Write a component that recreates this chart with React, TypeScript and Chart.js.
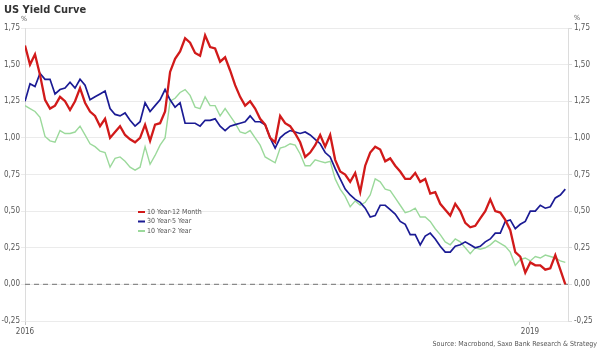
import React, { useEffect, useRef } from "react";
import { Chart, registerables } from "chart.js";

Chart.register(...registerables);

// Sample span (decimal years) of the series below
const FIRST_DATE = 2016.0;
const LAST_DATE = 2019.21;
const X_MAX = 2019.226;
const X_TICKS = [2016, 2019];
const Y_MIN = -0.25;
const Y_MAX = 1.75;
const Y_STEP = 0.25;

const SERIES_NAMES = ["10 Year-12 Month", "30 Year-5 Year", "10 Year-2 Year"];

const spread10y12m = [
  1.63, 1.5, 1.57, 1.43, 1.26, 1.2, 1.22, 1.28, 1.25, 1.19, 1.25, 1.34, 1.24, 1.18, 1.15, 1.08, 1.13, 1.0, 1.04, 1.08, 1.02, 0.99, 0.97, 1.0, 1.09, 0.98, 1.09, 1.1,
  1.18, 1.45, 1.54, 1.59, 1.68, 1.65, 1.58, 1.56, 1.7, 1.62, 1.61, 1.52, 1.55, 1.46, 1.36, 1.28, 1.22, 1.25, 1.2, 1.13, 1.09, 1.0, 0.97, 1.15, 1.1, 1.08, 1.03,
  0.97, 0.87, 0.9, 0.95, 1.02, 0.94, 1.02, 0.85, 0.77, 0.75, 0.7, 0.76, 0.63, 0.81, 0.9, 0.94, 0.92, 0.84, 0.86, 0.81, 0.77, 0.72, 0.72, 0.76, 0.7, 0.72, 0.62,
  0.63, 0.55, 0.51, 0.47, 0.55, 0.5, 0.42, 0.39, 0.4, 0.45, 0.5, 0.58, 0.5, 0.49, 0.44, 0.37, 0.22, 0.19, 0.08, 0.15, 0.13, 0.13, 0.1, 0.11, 0.2, 0.1, 0.0,
];

const spread30y5y = [
  1.25, 1.37, 1.35, 1.44, 1.4, 1.4, 1.3, 1.33, 1.34, 1.38, 1.34, 1.4, 1.36, 1.26, 1.28, 1.3, 1.32, 1.2, 1.16, 1.15, 1.17, 1.12, 1.08, 1.11, 1.24, 1.18, 1.22, 1.26,
  1.33, 1.26, 1.21, 1.24, 1.1, 1.1, 1.1, 1.08, 1.12, 1.12, 1.13, 1.08, 1.05, 1.08, 1.09, 1.1, 1.11, 1.15, 1.11, 1.11, 1.09, 1.0, 0.93, 1.0, 1.03, 1.05, 1.04,
  1.03, 1.04, 1.02, 0.99, 0.96, 0.9, 0.87, 0.79, 0.72, 0.65, 0.61, 0.58, 0.56, 0.52, 0.46, 0.47, 0.54, 0.54, 0.51, 0.48, 0.43, 0.41, 0.34, 0.34, 0.27, 0.33, 0.35,
  0.31, 0.26, 0.22, 0.22, 0.26, 0.27, 0.29, 0.27, 0.25, 0.26, 0.29, 0.31, 0.35, 0.35, 0.43, 0.44, 0.38, 0.41, 0.43, 0.5, 0.5, 0.54, 0.52, 0.53, 0.59, 0.61, 0.65,
];

const spread10y2y = [
  1.22, 1.2, 1.18, 1.14, 1.01, 0.98, 0.97, 1.05, 1.03, 1.03, 1.04, 1.08, 1.02, 0.96, 0.94, 0.91, 0.9, 0.8, 0.86, 0.87, 0.84, 0.8, 0.78, 0.8, 0.94, 0.82, 0.88, 0.95,
  1.0, 1.25, 1.27, 1.31, 1.33, 1.29, 1.21, 1.2, 1.28, 1.22, 1.22, 1.15, 1.2, 1.15, 1.1, 1.04, 1.03, 1.05, 1.0, 0.95, 0.87, 0.85, 0.83, 0.93, 0.94, 0.96, 0.95,
  0.89, 0.81, 0.81, 0.85, 0.84, 0.83, 0.84, 0.72, 0.65, 0.6, 0.53, 0.57, 0.54, 0.56, 0.61, 0.72, 0.7, 0.65, 0.64, 0.59, 0.54, 0.49, 0.5, 0.52, 0.46, 0.46, 0.43,
  0.38, 0.34, 0.29, 0.27, 0.31, 0.29, 0.25, 0.21, 0.25, 0.24, 0.25, 0.27, 0.3, 0.28, 0.26, 0.22, 0.13, 0.17, 0.18, 0.16, 0.19, 0.18, 0.2, 0.19, 0.18, 0.16, 0.15,
];

const COLORS = ["#d11a1a", "#1b1b94", "#9bd99b"];
const WIDTHS = [2.3, 1.7, 1.4];

const FONT_FAMILY = '"DejaVu Sans Condensed", "DejaVu Sans", sans-serif';
const TEXT_COLOR = "#555";

function toPoints(values: number[]) {
  const n = values.length;
  return values.map((v, i) => ({
    x: FIRST_DATE + (i * (LAST_DATE - FIRST_DATE)) / (n - 1),
    y: v,
  }));
}

const fmtY = (v: number | string) => Number(v).toFixed(2).replace(".", ",");

const overlayPlugin = {
  id: "overlay",
  beforeDatasetsDraw(chart: any) {
    const { ctx, chartArea, scales } = chart;
    const y0 = scales.y.getPixelForValue(0);
    ctx.save();
    ctx.strokeStyle = "#8a8a8a";
    ctx.lineWidth = 1.2;
    ctx.setLineDash([5, 4]);
    ctx.beginPath();
    ctx.moveTo(chartArea.left, y0);
    ctx.lineTo(chartArea.right, y0);
    ctx.stroke();
    ctx.restore();
  },
  afterDraw(chart: any) {
    const { ctx, chartArea, width, height } = chart;
    ctx.save();
    // title
    ctx.fillStyle = "#333";
    ctx.font = `bold 11px ${FONT_FAMILY}`;
    ctx.textBaseline = "middle";
    ctx.textAlign = "left";
    ctx.fillText("US Yield Curve", 4, 10);
    // percent markers
    ctx.font = `7px ${FONT_FAMILY}`;
    ctx.fillStyle = TEXT_COLOR;
    ctx.textAlign = "center";
    ctx.fillText("%", chartArea.left - 1, chartArea.top - 9);
    ctx.fillText("%", chartArea.right + 9, chartArea.top - 10);
    // legend
    const lx = chartArea.left + 113;
    const ly = chartArea.top + 184;
    ctx.font = `7px ${FONT_FAMILY}`;
    ctx.textAlign = "left";
    SERIES_NAMES.forEach((name, i) => {
      const y = ly + i * 9.5;
      ctx.strokeStyle = COLORS[i];
      ctx.lineWidth = 2;
      ctx.beginPath();
      ctx.moveTo(lx, y);
      ctx.lineTo(lx + 7, y);
      ctx.stroke();
      ctx.fillStyle = TEXT_COLOR;
      ctx.fillText(name, lx + 9, y);
    });
    // source
    ctx.textAlign = "right";
    ctx.fillText("Source: Macrobond, Saxo Bank Research & Strategy", width - 5, height - 7);
    ctx.restore();
  },
};

export default function App() {
  const ref = useRef<HTMLCanvasElement | null>(null);

  useEffect(() => {
    document.body.style.margin = "0";
    const canvas = ref.current;
    if (!canvas) return;
    const seriesList = [spread10y12m, spread30y5y, spread10y2y];
    const tickFont = { family: FONT_FAMILY, size: 8 };
    const chart = new Chart(canvas, {
      type: "line",
      data: {
        datasets: seriesList.map((vals, i) => ({
          label: SERIES_NAMES[i],
          data: toPoints(vals),
          borderColor: COLORS[i],
          backgroundColor: COLORS[i],
          borderWidth: WIDTHS[i],
          pointRadius: 0,
          tension: 0,
          fill: false,
          yAxisID: "y",
        })),
      },
      options: {
        animation: false,
        responsive: false,
        maintainAspectRatio: false,
        devicePixelRatio: 1,
        layout: { padding: { top: 28, left: 0, right: 0, bottom: 0 } },
        plugins: {
          legend: { display: false },
          tooltip: { enabled: false },
          title: { display: false },
        },
        scales: {
          x: {
            type: "linear",
            min: FIRST_DATE,
            max: X_MAX,
            afterBuildTicks: (s: any) => {
              s.ticks = X_TICKS.map((v) => ({ value: v }));
            },
            afterFit: (s: any) => {
              s.height = 30;
            },
            ticks: {
              callback: (v: any) => String(v),
              font: tickFont,
              color: TEXT_COLOR,
              padding: 2,
              maxRotation: 0,
              autoSkip: false,
            },
            grid: { drawOnChartArea: false, drawTicks: true, tickLength: 4, color: "#c8c8c8" },
            border: { display: false },
          },
          y: {
            position: "left",
            min: Y_MIN,
            max: Y_MAX,
            afterFit: (s: any) => {
              s.width = 25;
            },
            ticks: { stepSize: Y_STEP, callback: fmtY, font: tickFont, color: TEXT_COLOR, padding: 1 },
            grid: { color: "#ebebeb", tickLength: 4, lineWidth: 1 },
            border: { display: true, color: "#dcdcdc" },
          },
          y2: {
            position: "right",
            min: Y_MIN,
            max: Y_MAX,
            afterFit: (s: any) => {
              s.width = 34;
            },
            ticks: { stepSize: Y_STEP, callback: fmtY, font: tickFont, color: TEXT_COLOR, padding: 2 },
            grid: { drawOnChartArea: false, tickLength: 4, color: "#dcdcdc" },
            border: { display: true, color: "#dcdcdc" },
          },
        },
      },
      plugins: [overlayPlugin],
    } as any);
    return () => chart.destroy();
  }, []);

  return (
    <div style={{ position: "absolute", left: 0, top: 0, width: 602, height: 351, background: "#fff" }}>
      <canvas ref={ref} width={602} height={351} style={{ display: "block", width: 602, height: 351 }} />
    </div>
  );
}
